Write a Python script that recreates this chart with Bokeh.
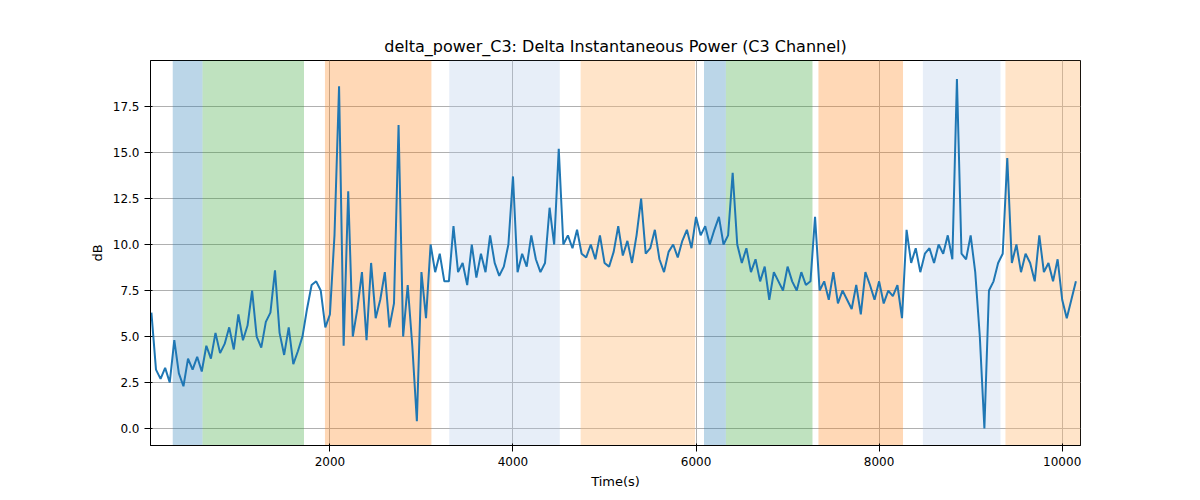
from bokeh.plotting import figure
from bokeh.models import BoxAnnotation, FixedTicker, CustomJSTickFormatter
from bokeh.embed import file_html
from bokeh.resources import INLINE

vals = [6.3,3.2,2.7,3.3,2.5,4.8,3.0,2.3,3.8,3.2,3.9,3.1,
 4.5,3.8,5.2,4.1,4.6,5.5,4.3,6.2,4.8,5.6,7.5,5.0,4.4,5.8,6.3,8.6,5.2,4.0,5.5,3.5,4.2,5.0,
 6.5,7.8,8.0,7.5,
 5.5,6.2,10.5,18.6,4.5,12.9,5.0,6.5,8.5,4.8,9.0,6.0,7.0,8.5,5.5,6.8,16.5,5.0,7.8,4.5,0.4,8.5,
 6.0,
 10.0,8.5,9.5,8.0,
 8.0,11.0,8.5,9.0,7.8,10.0,8.2,9.5,8.5,10.5,9.0,8.3,8.8,10.0,13.7,8.5,9.5,8.8,10.5,9.2,8.5,9.0,12.0,10.0,
 15.2,10.0,10.5,9.8,10.8,9.5,9.3,10.0,9.2,10.5,9.0,8.8,9.6,11.0,9.4,10.2,9.0,10.5,12.5,9.5,9.8,10.8,9.2,8.5,9.6,10.0,9.3,10.2,10.8,9.8,
 11.5,10.5,11.0,10.0,10.8,11.5,10.0,10.5,
 13.9,10.0,9.0,9.8,8.5,9.2,8.0,8.8,7.0,8.5,8.0,7.5,8.8,8.0,7.5,8.5,7.8,8.0,
 11.5,7.5,8.0,7.0,8.5,6.8,7.5,7.0,6.5,7.8,6.2,8.5,7.8,7.0,8.0,6.8,7.5,7.2,7.8,6.0,
 10.8,9.0,9.8,8.5,9.5,9.8,9.0,10.0,9.5,10.5,9.2,19.0,9.5,9.2,10.5,8.5,5.0,0.0,7.5,8.0,9.0,9.5,
 14.7,9.0,10.0,8.5,9.5,9.0,8.0,10.5,8.5,9.0,8.0,9.2,7.0,6.0,7.0,8.0]
times = [50 * (i + 1) for i in range(len(vals))]

span_starts = [283, 609, 1946, 3304, 4739, 6087, 6326, 7337, 8478, 9380]
span_ends = [609, 1717, 3109, 4511, 5989, 6326, 7272, 8261, 9326, 10200]
span_colors = ["#1f77b4", "#2ca02c", "#ff7f0e", "#aec7e8", "#ffbb78",
               "#1f77b4", "#2ca02c", "#ff7f0e", "#aec7e8", "#ffbb78"]
span_alpha = [0.3, 0.3, 0.3, 0.3, 0.4, 0.3, 0.3, 0.3, 0.3, 0.4]

p = figure(width=1200, height=500, output_backend="svg", toolbar_location=None,
           x_range=(40, 10200), y_range=(-0.92, 20.0),
           min_border_left=150, min_border_right=120, min_border_top=60, min_border_bottom=55,
           title="delta_power_C3: Delta Instantaneous Power (C3 Channel)")
p.title.align = "center"
p.title.text_font = "DejaVu Sans"
p.title.text_font_size = "16px"
p.title.text_font_style = "normal"
p.title.text_color = "black"
for s, e, c, a in zip(span_starts, span_ends, span_colors, span_alpha):
    p.add_layout(BoxAnnotation(left=s, right=e, fill_color=c, fill_alpha=a, line_alpha=0, level="underlay"))
p.line(times, vals, line_color="#1f77b4", line_width=2)
p.xaxis.ticker = FixedTicker(ticks=[2000, 4000, 6000, 8000, 10000])
p.yaxis.ticker = FixedTicker(ticks=[0, 2.5, 5, 7.5, 10, 12.5, 15, 17.5])
p.yaxis.formatter = CustomJSTickFormatter(code="return tick.toFixed(1);")
p.xaxis.axis_label = "Time(s)"
p.yaxis.axis_label = "dB"
for ax in (p.xaxis, p.yaxis):
    ax.axis_label_text_font = "DejaVu Sans"
    ax.axis_label_text_font_style = "normal"
    ax.axis_label_text_font_size = "13px"
    ax.axis_label_text_color = "black"
    ax.major_label_text_font = "DejaVu Sans"
    ax.major_label_text_font_size = "12px"
    ax.major_label_text_color = "black"
    ax.minor_tick_line_color = None
p.grid.grid_line_color = "#b0b0b0"
p.grid.grid_line_alpha = 1
p.grid.level = "underlay"
p.outline_line_color = "black"

open("out.html", "w").write(file_html(p, INLINE))
